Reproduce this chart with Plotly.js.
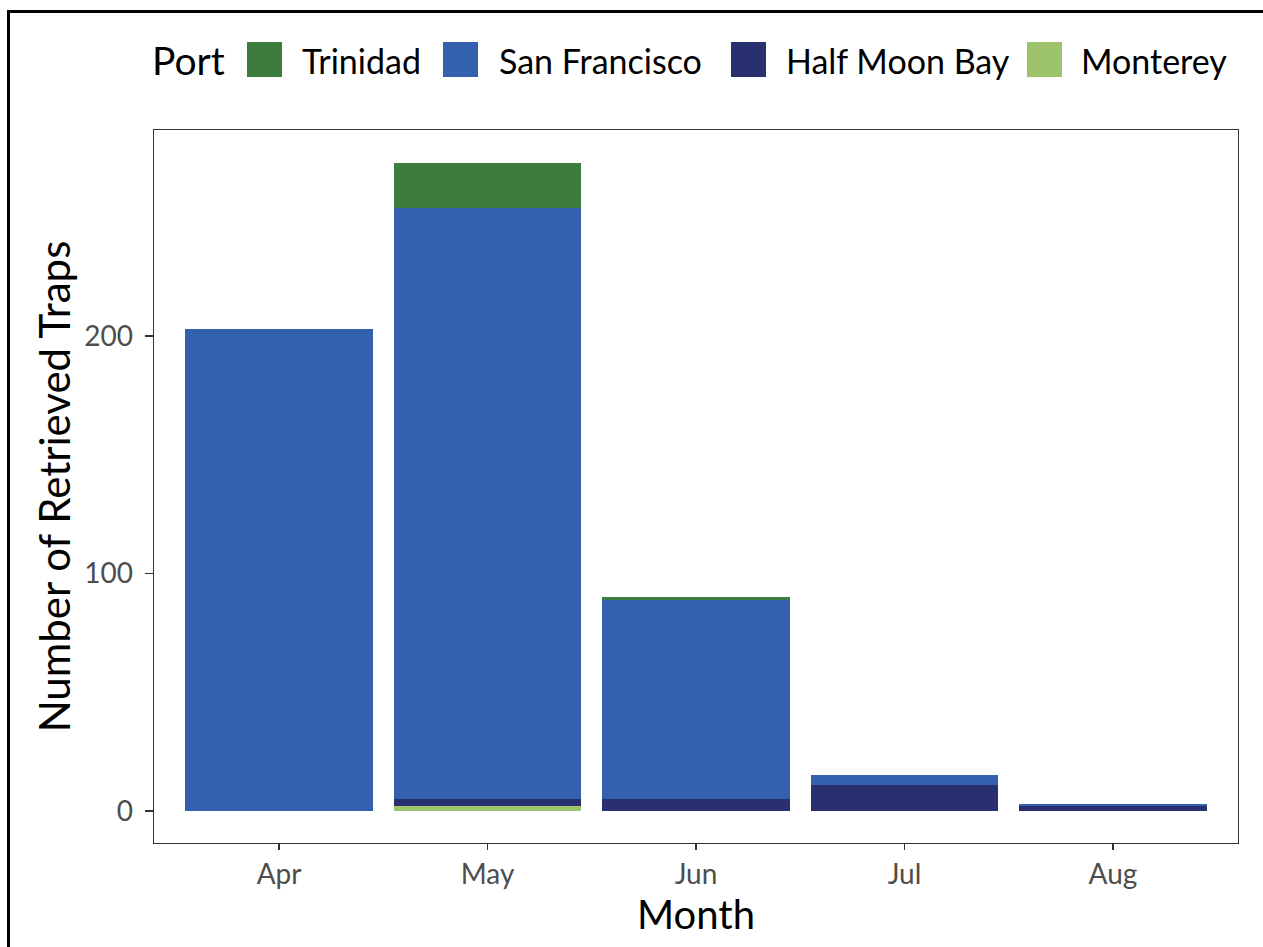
<!DOCTYPE html>
<html>
<head>
<meta charset="utf-8">
<script src="https://cdn.plot.ly/plotly-3.0.1.min.js"></script>
<style>
html,body{margin:0;padding:0;background:#fff;overflow:hidden;}
#chart{width:1263px;height:947px;}
#frame{position:absolute;left:7px;top:10px;width:1300px;height:1000px;border:3px solid #000;pointer-events:none;box-sizing:border-box;}
</style>
</head>
<body>
<div id="chart"></div>
<div id="frame"></div>
<script>
const months = ["Apr", "May", "Jun", "Jul", "Aug"];
const monterey = [0, 2, 0, 0, 0];
const halfMoonBay = [0, 3, 5, 11, 2];
const sanFrancisco = [203, 249, 84, 4, 1];
const trinidad = [0, 19, 1, 0, 0];

const ports = ["Monterey", "Half Moon Bay", "San Francisco", "Trinidad"];
const colors = ["#9dc46b", "#283070", "#3461ae", "#3c7c3d"];
const series = [monterey, halfMoonBay, sanFrancisco, trinidad];
const legendTitle = "Port";

const font = "Lato, 'DejaVu Sans', sans-serif";

// plot area in pixels
const W = 1263, H = 947;
const M = {l: 154, r: 25, t: 130, b: 104};
const PW = W - M.l - M.r, PH = H - M.t - M.b;
const px = X => (X - M.l) / PW;
const py = Y => (H - M.b - Y) / PH;

const traces = series.map((vals, i) => ({
  type: "bar",
  name: ports[i],
  x: months,
  y: vals,
  marker: {color: colors[i], line: {width: 0}},
  showlegend: false
}));

// custom legend (top, horizontal, reversed order)
const keyLeft = [247, 443, 731, 1027];
const textLeft = [302, 499, 786, 1081];
const shapes = [];
const annotations = [{
  xref: "paper", yref: "paper", x: px(150), y: py(60),
  xanchor: "left", yanchor: "middle", showarrow: false,
  text: legendTitle, font: {size: 39, color: "#000", family: font}
}];
const legendOrder = [3, 2, 1, 0];
legendOrder.forEach((ti, k) => {
  shapes.push({
    type: "rect", xref: "paper", yref: "paper",
    x0: px(keyLeft[k]), x1: px(keyLeft[k] + 35),
    y0: py(77), y1: py(42),
    fillcolor: colors[ti], line: {width: 0}
  });
  annotations.push({
    xref: "paper", yref: "paper", x: px(textLeft[k] - 2), y: py(60),
    xanchor: "left", yanchor: "middle", showarrow: false,
    text: ports[ti], font: {size: 34, color: "#000", family: font}
  });
});

const layout = {
  width: W,
  height: H,
  margin: M,
  paper_bgcolor: "#fff",
  plot_bgcolor: "#fff",
  barmode: "stack",
  bargap: 0.1,
  font: {family: font, color: "#000"},
  showlegend: false,
  shapes: shapes,
  annotations: annotations,
  xaxis: {
    title: {text: "Month", font: {size: 40, color: "#000"}, standoff: 2},
    range: [-0.6, 4.6],
    tickfont: {size: 28, color: "#4d4d4d"},
    showline: true, mirror: true, linecolor: "#333", linewidth: 1.3,
    ticks: "outside", ticklen: 6, tickcolor: "#333", tickwidth: 1.6,
    showgrid: false, zeroline: false
  },
  yaxis: {
    title: {text: "Number of Retrieved Traps", font: {size: 42, color: "#000"}, standoff: 0},
    range: [-13.5, 286.7],
    tickvals: [0, 100, 200],
    tickfont: {size: 28, color: "#4d4d4d"},
    ticklabelstandoff: 6,
    showline: true, mirror: true, linecolor: "#333", linewidth: 1.3,
    ticks: "outside", ticklen: 8, tickcolor: "#333", tickwidth: 1.6,
    showgrid: false, zeroline: false
  }
};

Plotly.newPlot("chart", traces, layout, {displayModeBar: false, staticPlot: true});
</script>
</body>
</html>
